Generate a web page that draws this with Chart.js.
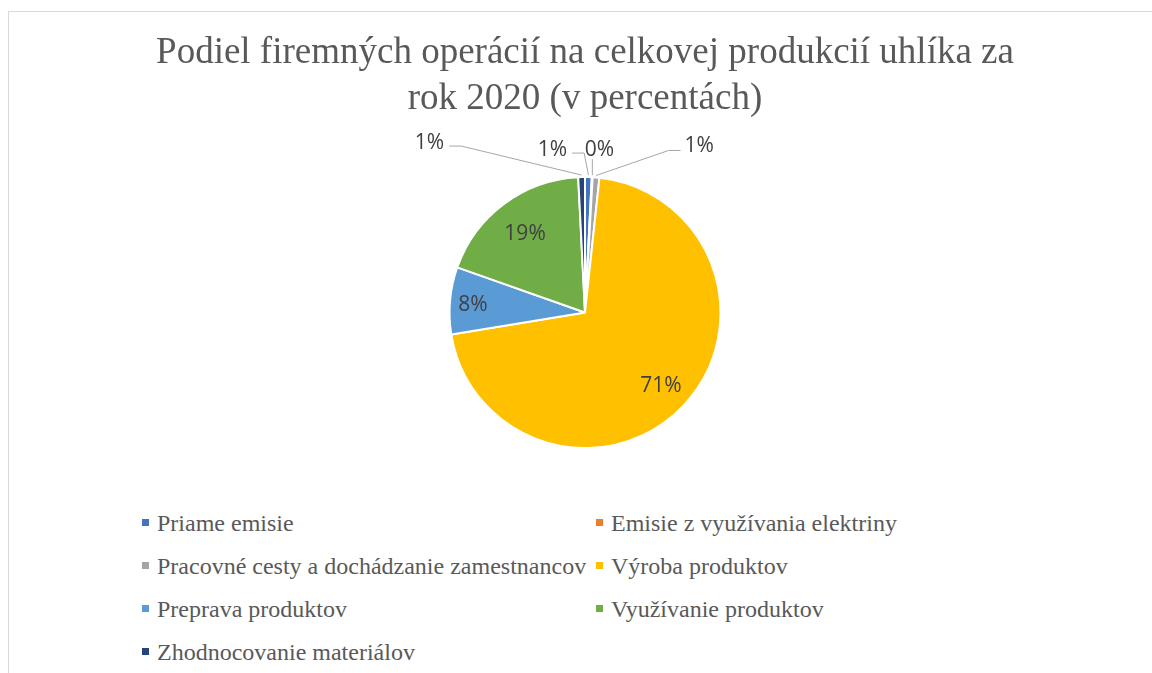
<!DOCTYPE html>
<html>
<head>
<meta charset="utf-8">
<script src="https://cdn.jsdelivr.net/npm/chart.js@4/dist/chart.umd.min.js"></script>
<style>
  body { margin: 0; background: #fff; width: 1152px; height: 673px; overflow: hidden; position: relative; }
  #frame { position: absolute; left: 8px; top: 11px; width: 1200px; height: 700px; border: 1px solid #d9d9d9; }
  #wrap { position: absolute; left: 0; top: 0; width: 1152px; height: 480px; }
  #legend { position: absolute; left: 142px; top: 502px; display: grid; grid-template-columns: 454px 454px; grid-auto-rows: 43px;
    font-family: "Liberation Serif", "Times New Roman", serif; font-size: 24px; color: #595959; line-height: 43px; }
  #legend span.box { display: inline-block; width: 7px; height: 7px; margin-right: 8px; vertical-align: 5px; }
  #legend div { white-space: nowrap; }
</style>
</head>
<body>
<div id="frame"></div>
<div id="wrap"><canvas id="myChart"></canvas></div>
<div id="legend"></div>
<script>
const titleLines = ['Podiel firemných operácií na celkovej produkcií uhlíka za', 'rok 2020 (v percentách)']
const labels = ['Priame emisie', 'Emisie z využívania elektriny', 'Pracovné cesty a dochádzanie zamestnancov',
  'Výroba produktov', 'Preprava produktov', 'Využívanie produktov', 'Zhodnocovanie materiálov']
const values = [0.8, 0.1, 0.8, 70.7, 8.0, 18.8, 0.8]
const colors = ['#4472C4', '#ED7D31', '#A5A5A5', '#FFC000', '#5B9BD5', '#70AD47', '#264478']

// small slices get their label moved out, with a leader line (offset from the slice edge)
const outsideOffsets = { 0: [-36, -25], 1: [7, -25], 2: [103, -29], 6: [-152, -32] }
const insideRadius = { 3: 0.77, 4: 0.83, 5: 0.74 }

const legend = document.querySelector('#legend')
labels.forEach((name, i) => {
  const item = document.createElement('div')
  item.innerHTML = `<span class="box" style="background:${colors[i]}"></span>${name}`
  legend.appendChild(item)
})

const pieLabels = {
  id: 'pieLabels',
  afterDatasetsDraw(chart) {
    const ctx = chart.ctx
    const meta = chart.getDatasetMeta(0)
    const total = values.reduce((a, b) => a + b, 0)
    ctx.save()
    ctx.font = '21px "Open Sans", sans-serif'
    ctx.fillStyle = '#404040'
    ctx.textAlign = 'center'
    ctx.textBaseline = 'middle'
    meta.data.forEach((arc, i) => {
      const p = arc.getProps(['x', 'y', 'startAngle', 'endAngle', 'outerRadius'], true)
      const mid = (p.startAngle + p.endAngle) / 2
      const text = Math.round(values[i] / total * 100) + '%'
      const off = outsideOffsets[i]
      if (!off) {
        const r = p.outerRadius * (insideRadius[i] || 0.78)
        ctx.fillText(text, p.x + Math.cos(mid) * r, p.y + Math.sin(mid) * r + 2)
        return
      }
      const ax = p.x + Math.cos(mid) * (p.outerRadius + 2)
      const ay = p.y + Math.sin(mid) * (p.outerRadius + 2)
      const lx = ax + off[0]
      const ly = ay + off[1]
      const w = ctx.measureText(text).width
      ctx.strokeStyle = '#a6a6a6'
      ctx.lineWidth = 1
      ctx.beginPath()
      if (off[0] < -15) {
        const ex = lx + w / 2 + 5
        ctx.moveTo(ex, ly + 3)
        ctx.lineTo(ex + 12, ly + 3)
        ctx.lineTo(ax, ay)
      } else if (off[0] > 15) {
        const ex = lx - w / 2 - 4
        ctx.moveTo(ex, ly + 4)
        ctx.lineTo(ex - 12, ly + 4)
        ctx.lineTo(ax, ay)
      } else {
        ctx.moveTo(ax, ly + 9)
        ctx.lineTo(ax, ay)
      }
      ctx.stroke()
      ctx.fillText(text, lx, ly)
    })
    ctx.restore()
  }
}

new Chart(document.getElementById('myChart'), {
  type: 'pie',
  data: {
    labels: labels,
    datasets: [{
      data: values,
      backgroundColor: colors,
      borderColor: '#ffffff',
      borderWidth: 2
    }]
  },
  options: {
    responsive: true,
    maintainAspectRatio: false,
    animation: false,
    layout: { padding: { left: 18, right: 0, top: 0, bottom: 31 } },
    plugins: {
      legend: { display: false },
      tooltip: { enabled: false },
      title: {
        display: true,
        text: titleLines,
        color: '#595959',
        font: { family: '"Liberation Serif", "Times New Roman", serif', size: 37, weight: 'normal', lineHeight: 1.23 },
        padding: { top: 31, bottom: 54 }
      }
    }
  },
  plugins: [pieLabels]
})
</script>
</body>
</html>
